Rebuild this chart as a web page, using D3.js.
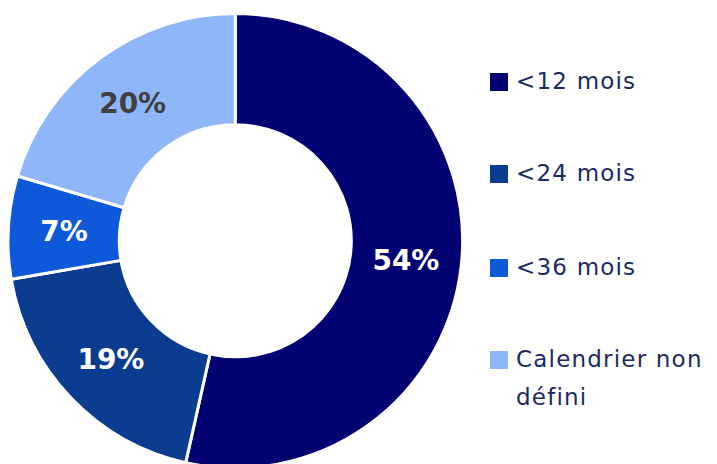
<!DOCTYPE html>
<meta charset="utf-8">
<script src="https://d3js.org/d3.v7.min.js"></script>
<style>
  body { margin: 0; background: #fff; }
</style>
<div id="chart"></div>
<script>
// data
var categories = ["<12 mois", "<24 mois", "<36 mois", "Calendrier non défini"];
var values = [53.5, 18.8, 7.3, 20.4];
var labels = ["54%", "19%", "7%", "20%"];
var colors = ["#020273", "#0c3c90", "#0d59da", "#8fb6f9"];
var labelColors = ["#ffffff", "#ffffff", "#ffffff", "#404040"];

var width = 717, height = 464;
var cx = 235.3, cy = 240.8, outerR = 227.3, innerR = 116;

var svg = d3.select("#chart").append("svg")
  .attr("width", width)
  .attr("height", height);

var data = categories.map(function (c, i) { return {name: c, value: values[i], i: i}; });

var pie = d3.pie().sort(null).value(function (d) { return d.value; });
var arc = d3.arc().innerRadius(innerR).outerRadius(outerR);
var labelArc = d3.arc().innerRadius((innerR + outerR) / 2).outerRadius((innerR + outerR) / 2);

var g = svg.append("g").attr("transform", "translate(" + cx + "," + cy + ")");

g.selectAll("path")
  .data(pie(data))
  .enter().append("path")
    .attr("d", arc)
    .attr("fill", function (d) { return colors[d.data.i]; })
    .attr("stroke", "#fff")
    .attr("stroke-width", 3);

g.selectAll("text")
  .data(pie(data))
  .enter().append("text")
    .attr("transform", function (d) { return "translate(" + labelArc.centroid(d) + ")"; })
    .attr("text-anchor", "middle")
    .attr("dy", "0.36em")
    .style("font-family", "'DejaVu Sans', sans-serif")
    .style("font-weight", "bold")
    .style("font-size", "28px")
    .attr("fill", function (d) { return labelColors[d.data.i]; })
    .text(function (d) { return labels[d.data.i]; });

// legend
var legend = svg.append("g").attr("transform", "translate(490,0)");
var rowY = [82, 174, 268, 360];

categories.forEach(function (c, i) {
  var row = legend.append("g").attr("transform", "translate(0," + rowY[i] + ")");
  row.append("rect")
    .attr("x", 0).attr("y", -9)
    .attr("width", 18).attr("height", 18)
    .attr("fill", colors[i]);
  var t = row.append("text")
    .attr("x", 26).attr("y", 7)
    .style("font-family", "'DejaVu Sans', sans-serif")
    .style("font-size", "23px")
    .style("letter-spacing", "1.2px")
    .attr("fill", "#1b2a60");
  if (c === "Calendrier non défini") {
    t.append("tspan").attr("x", 26).text("Calendrier non");
    t.append("tspan").attr("x", 26).attr("dy", 38).text("défini");
  } else {
    t.text(c);
  }
});
</script>
